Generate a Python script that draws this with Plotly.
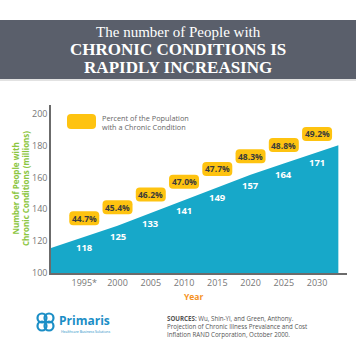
import plotly.graph_objects as go

years = [1995, 2000, 2005, 2010, 2015, 2020, 2025, 2030]
year_labels = ["1995*", "2000", "2005", "2010", "2015", "2020", "2025", "2030"]
people_millions = [118, 125, 133, 141, 149, 157, 164, 171]
percent_pop = ["44.7%", "45.4%", "46.2%", "47.0%", "47.7%", "48.3%", "48.8%", "49.2%"]
y_ticks = [100, 120, 140, 160, 180, 200]

W, H = 356, 350
ML, MR, MT, MB = 51, 9, 105, 77
PW, PH = W - ML - MR, H - MT - MB
X_MIN, X_MAX = 1990, 2034.5
AREA_END = 2033.2
AREA_HEADROOM = 4.7

def px(x):
    return (x - ML) / PW

def py(y):
    return (H - MB - y) / PH

# area top derived from the data values (with headroom), extended to edges
s0 = (people_millions[1] - people_millions[0]) / (years[1] - years[0])
s1 = (people_millions[-1] - people_millions[-2]) / (years[-1] - years[-2])
area_x = [X_MIN] + years + [AREA_END]
area_y = ([people_millions[0] - s0 * (years[0] - X_MIN)] + people_millions
          + [people_millions[-1] + s1 * (AREA_END - years[-1])])
area_y = [v + AREA_HEADROOM for v in area_y]

TEAL = "#17a8c9"
YELLOW = "#fec310"
FONT = "Open Sans"

fig = go.Figure()
fig.add_trace(go.Scatter(x=area_x, y=area_y, mode="lines", fill="tozeroy",
                         fillcolor=TEAL, line=dict(color=TEAL, width=0),
                         hoverinfo="skip", showlegend=False))

annotations = []
shapes = []

# value labels and percent boxes
for yr, v, p in zip(years, people_millions, percent_pop):
    annotations.append(dict(x=yr, y=v, text=str(v), showarrow=False, yshift=-3,
                            font=dict(family=FONT, size=9.5, color="white", weight="bold")))
    shapes.append(dict(type="path", xref="x", yref="y", xsizemode="pixel", ysizemode="pixel",
                       xanchor=yr, yanchor=v,
                       path="M -11 19 L 11 19 Q 15 19 15 23 L 15 29 Q 15 33 11 33 L -11 33 "
                            "Q -15 33 -15 29 L -15 23 Q -15 19 -11 19 Z",
                       fillcolor=YELLOW, line=dict(width=0), layer="above"))
    annotations.append(dict(x=yr, y=v, text=p, showarrow=False, yshift=26,
                            font=dict(family=FONT, size=8.5, color="#3b3b3b", weight="bold")))

# title banner
shapes.append(dict(type="rect", xref="paper", yref="paper", x0=px(0), x1=px(W),
                   y0=py(79), y1=py(20), fillcolor="#5a5f6b", line=dict(width=0), layer="below"))
shapes.append(dict(type="line", xref="paper", yref="paper", x0=px(0), x1=px(W),
                   y0=py(80), y1=py(80), line=dict(color="#d8d8d8", width=1.5)))
annotations.append(dict(xref="paper", yref="paper", x=px(178), y=py(50.5),
                        text=("<span style='font-size:15px'>The number of People with</span><br>"
                              "<span style='font-size:17px'><b>CHRONIC CONDITIONS IS</b></span><br>"
                              "<span style='font-size:17px'><b>RAPIDLY INCREASING</b></span>"),
                        showarrow=False, xanchor="center", yanchor="middle", align="center",
                        font=dict(family="Liberation Serif", size=14, color="white")))

# legend
shapes.append(dict(type="path", xref="paper", yref="paper",
                   path=("M {a} {b} L {c} {b} Q {d} {b} {d} {e} L {d} {f} Q {d} {g} {c} {g} "
                         "L {a} {g} Q {h} {g} {h} {f} L {h} {e} Q {h} {b} {a} {b} Z").format(
                       a=px(71), c=px(92), d=px(96), h=px(67),
                       b=py(114), e=py(118), f=py(125), g=py(129)),
                   fillcolor=YELLOW, line=dict(width=0)))
annotations.append(dict(xref="paper", yref="paper", x=px(100), y=py(122),
                        text="Percent of the Population<br>with a Chronic Condition",
                        showarrow=False, xanchor="left", yanchor="middle", align="left",
                        font=dict(family=FONT, size=7.3, color="#666666")))

# axis titles
annotations.append(dict(xref="paper", yref="paper", x=px(20), y=py(189),
                        text="Number of People with<br>Chronic Conditions (millions)",
                        showarrow=False, textangle=-90, xanchor="center", yanchor="middle",
                        font=dict(family=FONT, size=8, color="#8cc63f", weight="bold")))
annotations.append(dict(xref="paper", yref="paper", x=px(193), y=py(296), text="Year",
                        showarrow=False, xanchor="center", yanchor="middle",
                        font=dict(family=FONT, size=8.5, color="#f5921e", weight="bold")))

# footer: logo
BLUE = "#1b8ec6"
for cx, cy in [(42, 318), (49, 318), (42, 326), (49, 326)]:
    shapes.append(dict(type="circle", xref="paper", yref="paper",
                       x0=px(cx - 4.5), x1=px(cx + 4.5), y0=py(cy + 4.5), y1=py(cy - 4.5),
                       line=dict(color=BLUE, width=2.2), fillcolor="rgba(0,0,0,0)"))
annotations.append(dict(xref="paper", yref="paper", x=px(57), y=py(320), text="Primaris",
                        showarrow=False, xanchor="left", yanchor="middle",
                        font=dict(family=FONT, size=12, color=BLUE, weight="bold")))
annotations.append(dict(xref="paper", yref="paper", x=px(59), y=py(331),
                        text="Healthcare Business Solutions",
                        showarrow=False, xanchor="left", yanchor="middle",
                        font=dict(family=FONT, size=3.5, color=BLUE)))
annotations.append(dict(xref="paper", yref="paper", x=px(165), y=py(326.5),
                        text="<b>SOURCES:</b> Wu, Shin-Yi, and Green, Anthony.<br>"
                             "Projection of Chronic Illness Prevalance and Cost<br>"
                             "Inflation RAND Corporation, October 2000.",
                        showarrow=False, xanchor="left", yanchor="middle", align="left",
                        font=dict(family=FONT, size=6.2, color="#555555")))

fig.update_layout(
    width=W, height=H, margin=dict(l=ML, r=MR, t=MT, b=MB),
    paper_bgcolor="white", plot_bgcolor="white",
    showlegend=False, shapes=shapes, annotations=annotations,
    xaxis=dict(range=[X_MIN, X_MAX], tickvals=years, ticktext=year_labels,
               showgrid=False, zeroline=False, showline=True, linecolor="#6b6b6b", linewidth=1.5,
               ticks="", tickfont=dict(family=FONT, size=9, color="#777777"), fixedrange=True),
    yaxis=dict(range=[100, 205.5], tickvals=y_ticks, showgrid=False, zeroline=False,
               showline=True, linecolor="#6b6b6b", linewidth=1.5, ticks="",
               tickfont=dict(family=FONT, size=9, color="#777777"), fixedrange=True),
)
fig.write_html("out.html", config={"displayModeBar": False})
